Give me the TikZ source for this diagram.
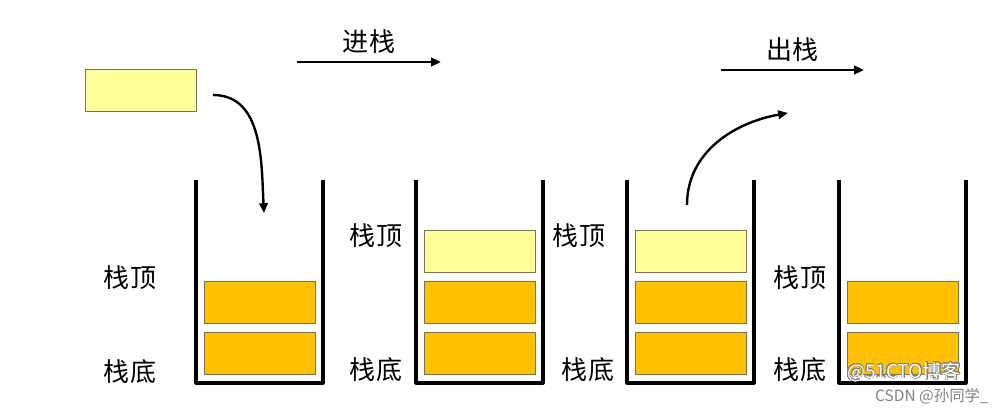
\documentclass[tikz,border=0pt]{standalone}
\usepackage{fontspec}
\setmainfont{Noto Sans CJK SC}
\usepackage{xcolor}
\usepackage{contour}
\usepackage{tikz}
\usetikzlibrary{arrows, arrows.meta, positioning}
\definecolor{itemorange}{HTML}{FFC000}
\definecolor{itemyellow}{HTML}{FFFF99}
\definecolor{itemedge}{HTML}{7F7050}
\tikzstyle{olditem} = [rectangle, minimum width=2.775cm, minimum height=1.05cm, draw=itemedge, line width=0.6pt, fill=itemorange]
\tikzstyle{newitem} = [rectangle, minimum width=2.775cm, minimum height=1.05cm, draw=itemedge, line width=0.6pt, fill=itemyellow]
\tikzstyle{wall} = [line width=2.3pt, line join=round]
\tikzstyle{tag} = [font=\fontsize{18.5}{20}\selectfont, inner sep=0pt]
\tikzstyle{arrow} = [line width=1.7pt,->,>={Triangle[length=7pt,width=6pt]}]

\begin{document}
\begin{tikzpicture}[x=0.025cm, y=0.025cm, node distance=0.21cm]
  \useasboundingbox (0,0) rectangle (1005,415);

  % the four stacks
  \foreach \x in {196,416,627,839}
    \draw[wall] (\x,235) -- (\x,32) -- (\x+127,32) -- (\x+127,235);

  % item waiting to be pushed
  \node (waiting) [newitem] at (141,325) {};

  % stack 1
  \node (s1a) [olditem] at (259.5,61.5) {};
  \node (s1b) [olditem, above=of s1a] {};
  \node (s1top) [tag] at (130,137.5) {栈顶};
  \node (s1bot) [tag] at (130,43.5) {栈底};

  % stack 2
  \node (s2a) [olditem] at (479.5,61.5) {};
  \node (s2b) [olditem, above=of s2a] {};
  \node (s2c) [newitem, above=of s2b] {};
  \node (s2top) [tag] at (376,179) {栈顶};
  \node (s2bot) [tag] at (376,45) {栈底};

  % stack 3
  \node (s3a) [olditem] at (691,61.5) {};
  \node (s3b) [olditem, above=of s3a] {};
  \node (s3c) [newitem, above=of s3b] {};
  \node (s3top) [tag] at (579,179) {栈顶};
  \node (s3bot) [tag] at (588,45) {栈底};

  % stack 4
  \node (s4a) [olditem] at (903,61.5) {};
  \node (s4b) [olditem, above=of s4a] {};
  \node (s4top) [tag] at (800,137.5) {栈顶};
  \node (s4bot) [tag] at (800,45) {栈底};

  % arrows
  \coordinate (pushL) at (297,353);
  \coordinate (pushR) at (441,353);
  \coordinate (popL) at (721,345);
  \coordinate (popR) at (864,345);
  \coordinate (dropS) at (213,320);
  \coordinate (dropE) at (264,202);
  \coordinate (liftS) at (687,210);
  \coordinate (liftE) at (788,302);

  \draw[arrow] (pushL) -- node[tag, above=5pt] {进栈} (pushR);
  \draw[arrow] (popL) -- node[tag, above=5pt] {出栈} (popR);
  \draw[arrow] (dropS) to[out=0, in=93] (dropE);
  \draw[arrow] (liftS) to[out=90, in=190] (liftE);

  % watermarks
  \node (mark51) [font=\fontsize{13.5}{15}\selectfont, inner sep=0pt] at (904,43) {\contour{gray}{\textcolor{white}{@51CTO博客}}};
  \node (markcsdn) [font=\fontsize{11}{13}\selectfont, text=gray, inner sep=0pt] at (932,19) {CSDN @孙同学\_};
\end{tikzpicture}
\end{document}
